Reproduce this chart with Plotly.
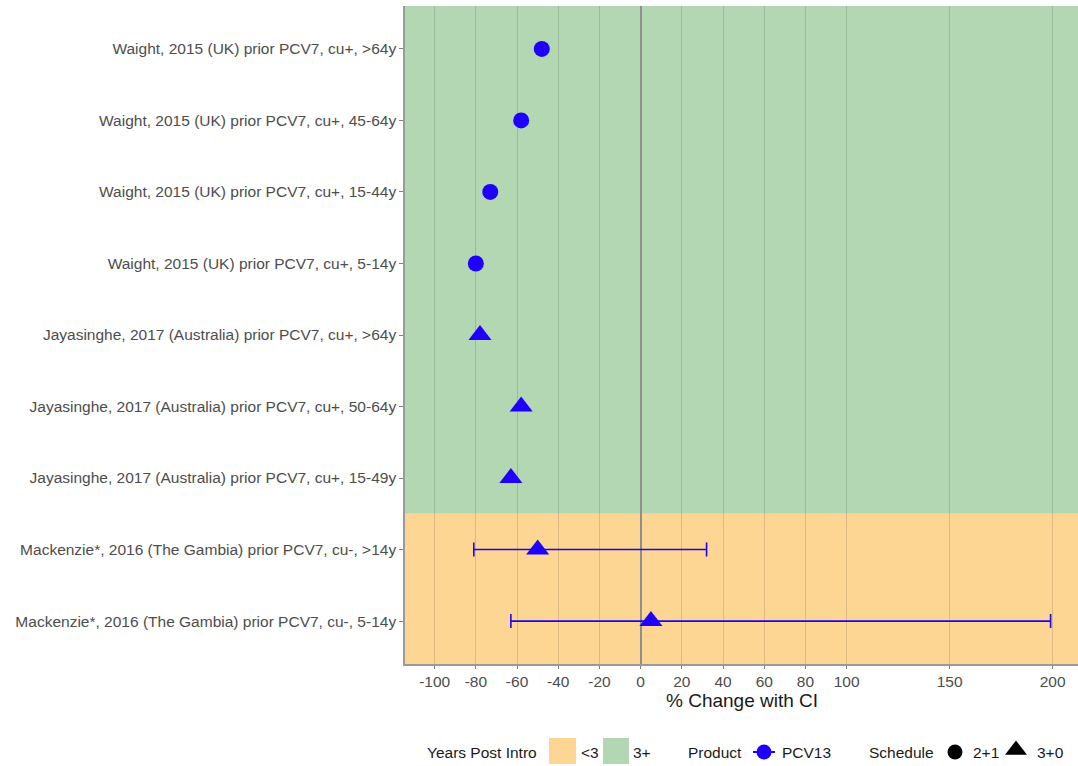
import plotly.graph_objects as go

# ---- data (bottom row first) ----
studies = [
    "Mackenzie*, 2016 (The Gambia) prior PCV7, cu-, 5-14y",
    "Mackenzie*, 2016 (The Gambia) prior PCV7, cu-, >14y",
    "Jayasinghe, 2017 (Australia) prior PCV7, cu+, 15-49y",
    "Jayasinghe, 2017 (Australia) prior PCV7, cu+, 50-64y",
    "Jayasinghe, 2017 (Australia) prior PCV7, cu+, >64y",
    "Waight, 2015 (UK) prior PCV7, cu+, 5-14y",
    "Waight, 2015 (UK) prior PCV7, cu+, 15-44y",
    "Waight, 2015 (UK) prior PCV7, cu+, 45-64y",
    "Waight, 2015 (UK) prior PCV7, cu+, >64y",
]
pct_change = [5, -50, -63, -58, -78, -80, -73, -58, -48]
ci_low = [-63, -81, None, None, None, None, None, None, None]
ci_high = [199, 32, None, None, None, None, None, None, None]
schedule = ["3+0", "3+0", "3+0", "3+0", "3+0", "2+1", "2+1", "2+1", "2+1"]
years_post = ["<3", "<3", "3+", "3+", "3+", "3+", "3+", "3+", "3+"]

x_ticks = [-100, -80, -60, -40, -20, 0, 20, 40, 60, 80, 100, 150, 200]

# ---- styling ----
W, H = 1078, 766
PLOT_L, PLOT_T, PLOT_B = 405, 6, 664
BLUE = "#1f00ff"
PERIOD_COLORS = {"<3": "#fed694", "3+": "#b3d7b3"}
SYMBOLS = {"2+1": "circle", "3+0": "triangle-up"}
SIZES = {"2+1": 16, "3+0": 20}
FONT = "Liberation Sans, Arial, sans-serif"
TXT = 15.5

fig = go.Figure()

# points without intervals, one trace per schedule
for sch in ["2+1", "3+0"]:
    idx = [i for i in range(len(studies)) if schedule[i] == sch and ci_low[i] is None]
    fig.add_trace(go.Scatter(
        x=[pct_change[i] for i in idx], y=[studies[i] for i in idx],
        mode="markers", showlegend=False,
        marker=dict(symbol=SYMBOLS[sch], size=SIZES[sch], color=BLUE, line=dict(width=0)),
    ))

# points with confidence intervals
idx = [i for i in range(len(studies)) if ci_low[i] is not None]
for sch in ["2+1", "3+0"]:
    sub = [i for i in idx if schedule[i] == sch]
    if not sub:
        continue
    fig.add_trace(go.Scatter(
        x=[pct_change[i] for i in sub], y=[studies[i] for i in sub],
        mode="markers", showlegend=False,
        marker=dict(symbol=SYMBOLS[sch], size=SIZES[sch], color=BLUE, line=dict(width=0)),
        error_x=dict(type="data", symmetric=False,
                     array=[ci_high[i] - pct_change[i] for i in sub],
                     arrayminus=[pct_change[i] - ci_low[i] for i in sub],
                     color=BLUE, thickness=1.6, width=7),
    ))

# background bands by years since introduction
n = len(studies)
shapes = []
start = 0
for i in range(1, n + 1):
    if i == n or years_post[i] != years_post[start]:
        y0 = -0.6 if start == 0 else start - 0.5
        y1 = n - 1 + 0.6 if i == n else i - 0.5
        shapes.append(dict(type="rect", xref="x domain", yref="y", x0=0, x1=1,
                           y0=y0, y1=y1, fillcolor=PERIOD_COLORS[years_post[start]],
                           line=dict(width=0), layer="below"))
        start = i

# ---- legend strip along the bottom (pixel units on a hidden axis pair) ----
LEG_H = 45
def ly(py):
    return H - py

leg_text = []
def leg_label(x, text):
    leg_text.append(dict(x=x, y=ly(752), xref="x2", yref="y2", text=text,
                         showarrow=False, xanchor="left", yanchor="middle",
                         font=dict(family=FONT, size=TXT, color="#1a1a1a")))

leg_label(425, "Years Post Intro")
shapes.append(dict(type="rect", xref="x2", yref="y2", x0=549, x1=576, y0=ly(764), y1=ly(738),
                   fillcolor=PERIOD_COLORS["<3"], line=dict(width=0)))
leg_label(579, "&lt;3")
shapes.append(dict(type="rect", xref="x2", yref="y2", x0=603, x1=629, y0=ly(764), y1=ly(738),
                   fillcolor=PERIOD_COLORS["3+"], line=dict(width=0)))
leg_label(631, "3+")
leg_label(686, "Product")
fig.add_trace(go.Scatter(x=[753, 775], y=[ly(752), ly(752)], xaxis="x2", yaxis="y2",
                         mode="lines", line=dict(color=BLUE, width=2), showlegend=False,
                         hoverinfo="skip"))
fig.add_trace(go.Scatter(x=[764], y=[ly(752)], xaxis="x2", yaxis="y2", mode="markers",
                         marker=dict(symbol="circle", size=15, color=BLUE), showlegend=False,
                         hoverinfo="skip"))
leg_label(780, "PCV13")
leg_label(867, "Schedule")
fig.add_trace(go.Scatter(x=[955], y=[ly(752)], xaxis="x2", yaxis="y2", mode="markers",
                         marker=dict(symbol="circle", size=15, color="black"), showlegend=False,
                         hoverinfo="skip"))
leg_label(971, "2+1")
fig.add_trace(go.Scatter(x=[1016], y=[ly(750)], xaxis="x2", yaxis="y2", mode="markers",
                         marker=dict(symbol="triangle-up", size=19, color="black"),
                         showlegend=False, hoverinfo="skip"))
leg_label(1035, "3+0")

annotations = leg_text + [
    dict(x=(PLOT_L + W) / 2 / W, y=(H - 700) / H, xref="paper", yref="paper",
         text="% Change with CI", showarrow=False, xanchor="center", yanchor="middle",
         font=dict(family=FONT, size=19, color="#1a1a1a")),
]

fig.update_layout(
    width=W, height=H,
    margin=dict(l=0, r=0, t=0, b=0),
    paper_bgcolor="white", plot_bgcolor="white",
    font=dict(family=FONT, size=TXT, color="#4d4d4d"),
    showlegend=False,
    shapes=shapes,
    annotations=annotations,
    xaxis=dict(
        domain=[PLOT_L / W, 1],
        range=[-114.4, 212.3],
        tickvals=x_ticks, ticktext=[str(v) for v in x_ticks],
        showgrid=True, gridcolor="rgba(0,0,0,0.13)", gridwidth=1.4,
        zeroline=True, zerolinecolor="#8e8e8e", zerolinewidth=2,
        showline=True, linecolor="#9a9a9a", linewidth=1.5,
        ticks="outside", ticklen=3, tickcolor="#7f7f7f", tickwidth=1,
        tickfont=dict(family=FONT, size=TXT, color="#4d4d4d"),
        fixedrange=True, automargin=False,
    ),
    yaxis=dict(
        domain=[(H - PLOT_B) / H, (H - PLOT_T) / H],
        type="category", categoryorder="array", categoryarray=studies,
        range=[-0.6, n - 1 + 0.6],
        showgrid=False, zeroline=False,
        showline=True, linecolor="#9a9a9a", linewidth=1.5,
        ticks="outside", ticklen=4, tickcolor="#7f7f7f", tickwidth=1,
        tickfont=dict(family=FONT, size=TXT, color="#4d4d4d"),
        fixedrange=True, automargin=False,
    ),
    xaxis2=dict(domain=[0, 1], range=[0, W], visible=False, anchor="y2", fixedrange=True),
    yaxis2=dict(domain=[0, LEG_H / H], range=[0, LEG_H], visible=False, anchor="x2",
                fixedrange=True),
)

fig.write_html("out.html")
